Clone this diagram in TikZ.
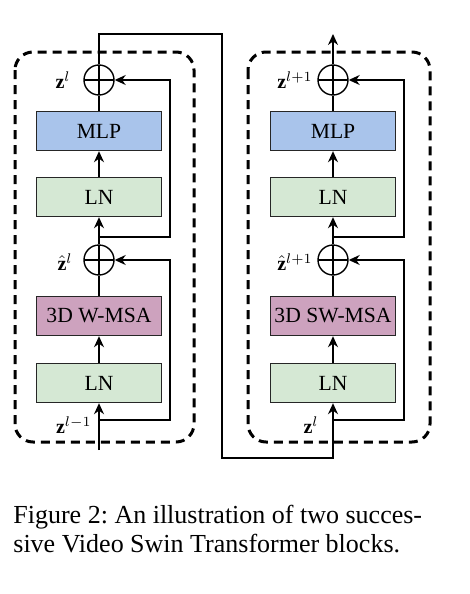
\documentclass[tikz,border=0pt]{standalone}
\usepackage{fontspec}
\setmainfont{Liberation Serif}
\usetikzlibrary{arrows.meta}

\definecolor{lngreen}{HTML}{D5E8D4}
\definecolor{mlpblue}{HTML}{A9C4EB}
\definecolor{msapurple}{HTML}{CDA2BE}

\tikzset{
  blk/.style={draw=black!85, line width=0.7pt, minimum width=62.5pt, minimum height=19.5pt,
    inner sep=0pt, font=\fontsize{10.8}{12}\selectfont},
  lnbox/.style={blk, fill=lngreen},
  mlpbox/.style={blk, fill=mlpblue},
  msabox/.style={blk, fill=msapurple},
  addop/.style={circle, draw, line width=0.7pt, minimum size=15pt, inner sep=0pt,
    path picture={\draw[line width=0.7pt] (path picture bounding box.north) -- (path picture bounding box.south)
      (path picture bounding box.west) -- (path picture bounding box.east);}},
  wire/.style={line width=0.75pt},
  blockframe/.style={line width=1.5pt, dash pattern=on 4.5pt off 3pt, rounded corners=9pt},
  zlabel/.style={anchor=east, inner sep=0pt, font=\fontsize{10}{12}\selectfont},
  captext/.style={anchor=base west, inner sep=0pt, font=\fontsize{13}{15}\selectfont}
}

\begin{document}
\begin{tikzpicture}[line cap=butt,line join=miter,>={Stealth[length=5.5pt,width=5pt]},x=0.5pt,y=-0.5pt]
      \useasboundingbox (0,0) rectangle (470,594);

      % Dashed frames
      \draw[blockframe] (15,52) rectangle (194,442);
      \draw[blockframe] (248,52) rectangle (430,442);

      % Left block
      \node[addop] (addA2) at (99,80) {};
      \node[mlpbox] (mlpA) at (99,131) {MLP};
      \node[lnbox] (lnA2) at (99,197) {LN};
      \node[addop] (addA1) at (99,260) {};
      \node[msabox] (msaA) at (99,316) {3D W-MSA};
      \node[lnbox] (lnA1) at (99,383) {LN};
      \coordinate (inA) at (99,450);
      \coordinate (brA1) at (99,420);
      \coordinate (brA2) at (99,237);
      \coordinate (topA) at (99,34);

      % Right block
      \node[addop] (addB2) at (333,80) {};
      \node[mlpbox] (mlpB) at (333,131) {MLP};
      \node[lnbox] (lnB2) at (333,197) {LN};
      \node[addop] (addB1) at (333,260) {};
      \node[msabox] (msaB) at (333,316) {3D SW-MSA};
      \node[lnbox] (lnB1) at (333,383) {LN};
      \coordinate (botB) at (333,458);
      \coordinate (brB1) at (333,420);
      \coordinate (brB2) at (333,237);
      \coordinate (outB) at (333,34);

      % Add Connectors
      \draw[wire,->] (inA) -- (lnA1);
      \draw[wire,->] (lnA1) -- (msaA);
      \draw[wire] (msaA) -- (addA1);
      \draw[wire,->] (brA1) -- ++(71,0) |- (addA1);
      \draw[wire,->] (addA1) -- (lnA2);
      \draw[wire,->] (lnA2) -- (mlpA);
      \draw[wire] (mlpA) -- (addA2);
      \draw[wire,->] (brA2) -- ++(71,0) |- (addA2);
      \draw[wire,->] (addA2) -- (topA) -| (222,458) -- (botB) -- (lnB1);

      \draw[wire,->] (lnB1) -- (msaB);
      \draw[wire] (msaB) -- (addB1);
      \draw[wire,->] (brB1) -- ++(71,0) |- (addB1);
      \draw[wire,->] (addB1) -- (lnB2);
      \draw[wire,->] (lnB2) -- (mlpB);
      \draw[wire] (mlpB) -- (addB2);
      \draw[wire,->] (brB2) -- ++(71,0) |- (addB2);
      \draw[wire,->] (addB2) -- (outB);

      % Labels
      \node[zlabel] (lzA2) at (71,80) {$\mathbf{z}^l$};
      \node[zlabel] (lzA1) at (73,262) {$\hat{\mathbf{z}}^l$};
      \node[zlabel] (lzA0) at (92,425) {$\mathbf{z}^{l-1}$};
      \node[zlabel] (lzB2) at (313,80) {$\mathbf{z}^{l+1}$};
      \node[zlabel] (lzB1) at (313,262) {$\hat{\mathbf{z}}^{l+1}$};
      \node[zlabel] (lzB0) at (319,425) {$\mathbf{z}^l$};

      % Caption
      \node[captext] (cap1) at (13,523) {Figure 2:\ An illustration of two succes-};
      \node[captext] (cap2) at (13,552) {sive Video Swin Transformer blocks.};
\end{tikzpicture}
\end{document}
